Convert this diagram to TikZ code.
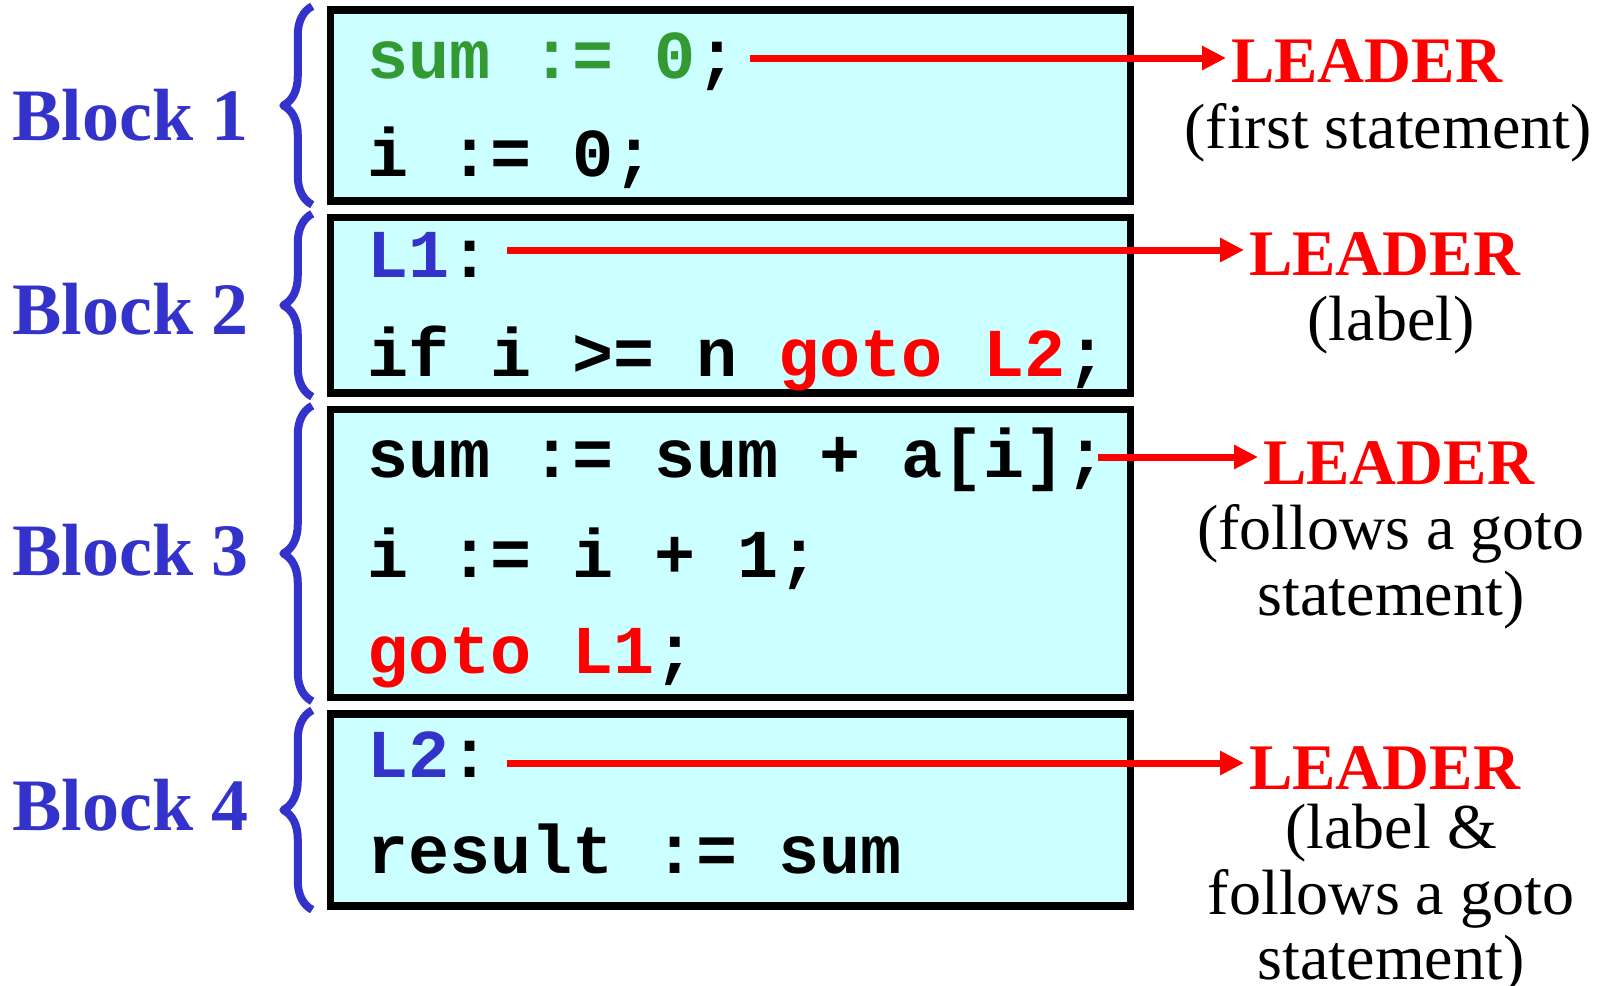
\documentclass[tikz,border=0pt]{standalone}
\usepackage{fontspec}
\setmainfont{Liberation Serif}
\setmonofont{Liberation Mono}
\usepackage{xcolor}
\usetikzlibrary{positioning,arrows.meta,decorations.pathreplacing}
\definecolor{boxcyan}{HTML}{CCFFFF}
\definecolor{labelblue}{HTML}{3333CC}
\definecolor{codegreen}{HTML}{339933}
\definecolor{leadred}{HTML}{FF0000}

\begin{document}
\begin{tikzpicture}[x=1pt,y=-1pt,
  blockbox/.style={draw=black, line width=7.5pt, fill=boxcyan, minimum width=800pt, inner sep=0pt},
  codeline/.style={anchor=base west, inner sep=0pt, font=\fontsize{68.5}{70}\selectfont\ttfamily\bfseries},
  blocklabel/.style={anchor=base east, inner sep=0pt, text=labelblue, font=\fontsize{74}{76}\selectfont\bfseries},
  curly/.style={draw=labelblue, line width=8pt, line join=round, decorate, decoration={brace, amplitude=29pt}},
  leader/.style={anchor=west, inner sep=0pt, text=leadred, font=\fontsize{65}{65}\selectfont\bfseries},
  note/.style={align=center, inner sep=0pt, font=\fontsize{64}{65.5}\selectfont},
  pointer/.style={draw=leadred, line width=7pt, -{Triangle[length=24pt,width=23pt]}, shorten >=5pt}]
\useasboundingbox (0,0) rectangle (1600,985);
% the four basic blocks
\node[blockbox, minimum height=191pt] (b1) at (730.5,105.5) {};
\node[blockbox, minimum height=175.5pt, below=9pt of b1] (b2) {};
\node[blockbox, minimum height=288pt, below=9pt of b2] (b3) {};
\node[blockbox, minimum height=192pt, below=9pt of b3] (b4) {};
% code
\node[codeline] (c11) at (367,78) {{\color{codegreen}sum := 0};};
\node[codeline] (c12) at (367,176) {i := 0;};
\node[codeline] (c21) at (367,277) {{\color{labelblue}L1}:};
\node[codeline] (c22) at (367,376) {if i >= n {\color{leadred}goto L2};};
\node[codeline] (c31) at (367,477) {sum := sum + a[i];};
\node[codeline] (c32) at (367,577) {i := i + 1;};
\node[codeline] (c33) at (367,673) {{\color{leadred}goto L1};};
\node[codeline] (c41) at (367,777) {{\color{labelblue}L2}:};
\node[codeline] (c42) at (367,873) {result := sum};
% braces and block names
\foreach \b/\n/\y in {b1/1/140,b2/2/334,b3/3/575,b4/4/830}{
  \draw[curly] ([xshift=-14.5pt]\b.south west) -- ([xshift=-14.5pt]\b.north west);
  \node[blocklabel] (l\n) at (249,\y) {Block \n};
}
% leaders
\node[leader] (lead1) at (1231,61) {LEADER};
\node[leader] (lead2) at (1249,254) {LEADER};
\node[leader] (lead3) at (1263,463) {LEADER};
\node[leader] (lead4) at (1249,768) {LEADER};
\node[note] (n1) at (1388,133) {(first statement)};
\node[note] (n2) at (1391,325) {(label)};
\node[note] (n3) at (1391,567) {(follows a goto\\statement)};
\node[note] (n4) at (1391,899) {(label \&\\follows a goto\\statement)};
\draw[pointer] ([xshift=13pt,yshift=20pt]c11.base east) -- ([yshift=20pt]c11.base east -| lead1.west);
\draw[pointer] ([xshift=16pt,yshift=27pt]c21.base east) -- ([yshift=27pt]c21.base east -| lead2.west);
\draw[pointer] ([xshift=-9pt,yshift=20pt]c31.base east) -- ([yshift=20pt]c31.base east -| lead3.west);
\draw[pointer] ([xshift=16pt,yshift=14pt]c41.base east) -- ([yshift=14pt]c41.base east -| lead4.west);
\end{tikzpicture}
\end{document}
